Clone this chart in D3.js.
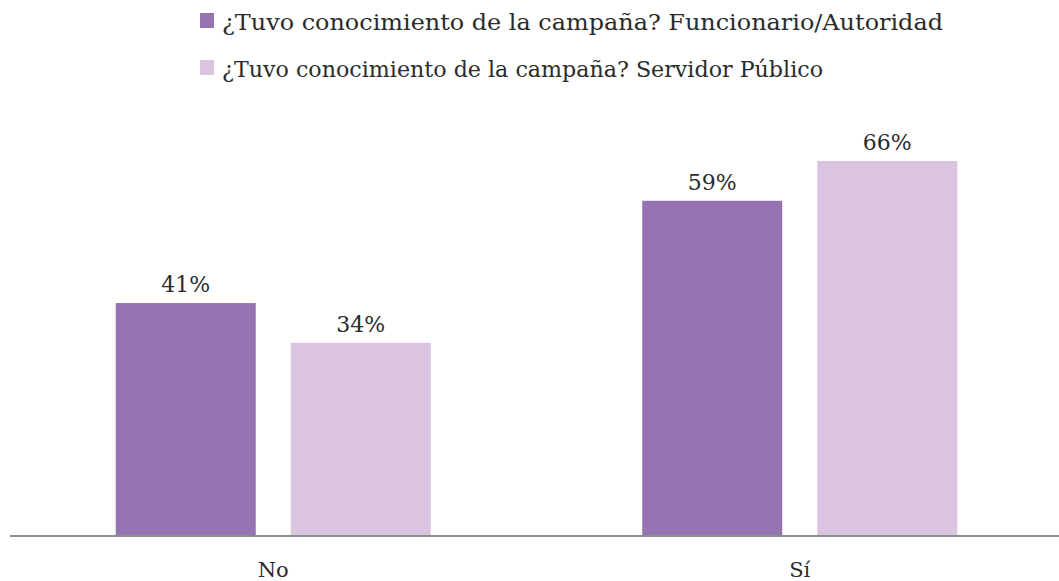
<!DOCTYPE html>
<html>
<head>
<meta charset="utf-8">
<script src="https://cdn.jsdelivr.net/npm/d3@7"></script>
<style>
  body { margin: 0; background: #fff; }
  svg text { font-family: "DejaVu Serif", "Liberation Serif", serif; fill: #2b2b2b; }
</style>
</head>
<body>
<div id="chart"></div>
<script>
// chart data
const categories = ["No", "Sí"];
const seriesNames = [
    "¿Tuvo conocimiento de la campaña? Funcionario/Autoridad",
    "¿Tuvo conocimiento de la campaña? Servidor Público"
];
const funcionarioValues = [0.41, 0.59];
const servidorValues = [0.34, 0.66];
const seriesColors = ["#9673b1", "#dbc4e0"];
// approx. widths of the legend lines in the reference
const legendWidths = [721, 601];

const width = 1059, height = 581;
const baseY = 536;

const svg = d3.select("#chart")
    .append("svg")
    .attr("width", width)
    .attr("height", height);

// scales
const x0 = d3.scaleBand()
    .domain(categories)
    .range([10, 1063])
    .padding(0);

const x1 = d3.scaleBand()
    .domain(d3.range(seriesNames.length))
    .range([0, x0.bandwidth()])
    .paddingInner(0.2)
    .paddingOuter(0.604);

const y = d3.scaleLinear()
    .domain([0, 0.66])
    .range([baseY, 161]);

const rows = categories.map((c, i) => ({
    cat: c,
    vals: [funcionarioValues[i], servidorValues[i]]
}));

const groups = svg.selectAll("g.grp")
    .data(rows)
    .join("g")
    .attr("class", "grp")
    .attr("transform", d => `translate(${x0(d.cat)},0)`);

groups.selectAll("rect")
    .data(d => d.vals.map((v, k) => ({v, k})))
    .join("rect")
    .attr("x", d => x1(d.k))
    .attr("width", x1.bandwidth())
    .attr("y", d => y(d.v))
    .attr("height", d => baseY - y(d.v))
    .attr("fill", d => seriesColors[d.k]);

groups.selectAll("text.lbl")
    .data(d => d.vals.map((v, k) => ({v, k})))
    .join("text")
    .attr("class", "lbl")
    .attr("x", d => x1(d.k) + x1.bandwidth() / 2)
    .attr("y", d => y(d.v) - 11)
    .attr("text-anchor", "middle")
    .style("font-size", "22px")
    .text(d => d3.format(".0%")(d.v));

// baseline / x axis
const xAxis = d3.axisBottom(x0).tickSize(0).tickPadding(0);
const axisG = svg.append("g")
    .attr("transform", `translate(0,${baseY})`)
    .call(xAxis);
axisG.select(".domain")
    .attr("d", `M10,0H${width}`)
    .attr("stroke", "#8c8c8c")
    .attr("stroke-width", 2);
axisG.selectAll(".tick text")
    .attr("y", 41)
    .attr("dy", 0)
    .style("font-size", "21px")
    .attr("fill", "#2b2b2b");

// legend
const legend = svg.append("g");
const legItems = legend.selectAll("g")
    .data(seriesNames)
    .join("g")
    .attr("transform", (d, i) => `translate(200,${i * 47})`);

legItems.append("rect")
    .attr("x", 0)
    .attr("y", 13)
    .attr("width", 14)
    .attr("height", 15)
    .attr("fill", (d, i) => seriesColors[i]);

legItems.append("text")
    .attr("x", 22)
    .attr("y", 30)
    .style("font-size", "22px")
    .attr("textLength", (d, i) => legendWidths[i])
    .attr("lengthAdjust", "spacingAndGlyphs")
    .text(d => d);
</script>
</body>
</html>
